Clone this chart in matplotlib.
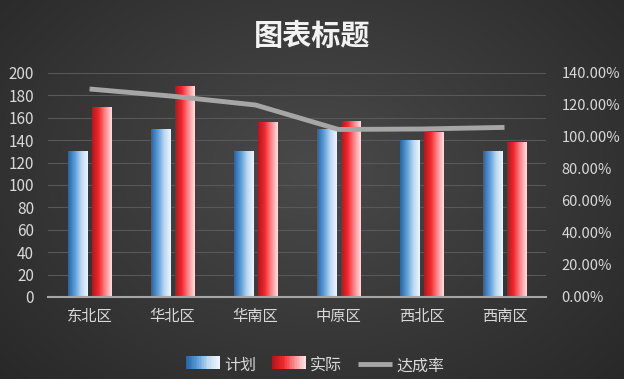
import numpy as np
import matplotlib
matplotlib.use("Agg")
import matplotlib.pyplot as plt
from matplotlib.patches import Rectangle
from matplotlib.legend_handler import HandlerBase
from matplotlib.colors import LinearSegmentedColormap

plt.rcParams['font.family'] = ['Noto Sans CJK SC', 'DejaVu Sans']

regiones = ['东北区', '华北区', '华南区', '中原区', '西北区', '西南区']
plan = [130, 150, 130, 150, 140, 130]
real = [170, 188, 156, 157, 147, 138]
tasa = [1.30, 1.255, 1.20, 1.047, 1.05, 1.06]

textoColor = '#d9d9d9'
cmapAzul = LinearSegmentedColormap.from_list('azul', ['#2565a8', '#5b9bd5', '#bcd7ef', '#eef5fc'])
cmapRojo = LinearSegmentedColormap.from_list('rojo', ['#b8141a', '#f0282d', '#f58a8d', '#fbe0e0'])


class HandlerGradiente(HandlerBase):
    def __init__(self, cmap):
        super().__init__()
        self.cmap = cmap

    def create_artists(self, legend, orig, xd, yd, w, h, fs, trans):
        n = 20
        artistas = []
        for i in range(n):
            r = Rectangle((xd + w * i / n, yd), w / n + 0.3, h,
                          facecolor=self.cmap(i / (n - 1)), edgecolor='none', transform=trans)
            artistas.append(r)
        return artistas


fig = plt.figure(figsize=(6.24, 3.79), dpi=100)

# fondo con degradado radial
fondo = fig.add_axes([0, 0, 1, 1], zorder=-10)
yy, xx = np.mgrid[0:379, 0:624]
d = np.sqrt(((xx - 312) / 420.0) ** 2 + ((yy - 170) / 300.0) ** 2)
d = np.clip(d, 0, 1)
gris = 0.29 - 0.13 * d
fondo.imshow(np.dstack([gris, gris, gris]), aspect='auto', extent=[0, 1, 0, 1])
fondo.axis('off')

ax = fig.add_axes([0.077, 0.2164, 0.798, 0.591])
ax.set_facecolor('none')
x = np.arange(len(regiones))
ancho = 0.23
barrasPlan = ax.bar(x - 0.14, plan, ancho, facecolor='none', edgecolor='none', zorder=2)
barrasReal = ax.bar(x + 0.14, real, ancho, facecolor='none', edgecolor='none', zorder=2)

grad = np.linspace(0, 1, 64).reshape(1, -1)
for barras, cmap in [(barrasPlan, cmapAzul), (barrasReal, cmapRojo)]:
    for b in barras:
        bx, by = b.get_x(), b.get_y()
        bw, bh = b.get_width(), b.get_height()
        im = ax.imshow(grad, cmap=cmap, aspect='auto', extent=[bx, bx + bw, by, by + bh], zorder=2)
        im.set_clip_path(b)

ax.set_xlim(-0.5, len(regiones) - 0.5)
ax.set_ylim(0, 200)
ax.set_yticks(range(0, 201, 20))
ax.set_xticks(x)
ax.set_xticklabels(regiones)
ax.yaxis.grid(True, color='#585858', linewidth=0.8)
ax.set_axisbelow(True)
for s in ['top', 'right', 'left']:
    ax.spines[s].set_visible(False)
ax.spines['bottom'].set_color('#a6a6a6')
ax.spines['bottom'].set_linewidth(1.5)
ax.spines['bottom'].set_zorder(3)
ax.tick_params(axis='both', length=0, colors=textoColor, labelsize=11)
ax.tick_params(axis='x', pad=8)
ax.tick_params(axis='y', pad=10)

ax2 = ax.twinx()
linea, = ax2.plot(x, tasa, color='#a6a6a6', linewidth=3.5, solid_capstyle='butt', zorder=4)
ax2.set_ylim(0, 1.4)
ax2.set_yticks(np.arange(0, 1.41, 0.2))
ax2.set_yticklabels(['%.2f%%' % (v * 100) for v in np.arange(0, 1.41, 0.2)])
ax2.tick_params(axis='y', length=0, colors=textoColor, labelsize=10.5, pad=11)
for s in ax2.spines.values():
    s.set_visible(False)

fig.text(0.5, 0.905, '图表标题', color='#f2f2f2', fontsize=21, fontweight='bold',
         ha='center', va='center')

fig.legend([barrasPlan, barrasReal, linea], ['计划', '实际', '达成率'],
           handler_map={barrasPlan: HandlerGradiente(cmapAzul), barrasReal: HandlerGradiente(cmapRojo)},
           loc='center', bbox_to_anchor=(0.505, 0.035), ncol=3, frameon=False,
           fontsize=11.5, labelcolor=textoColor, handlelength=2.1, handleheight=0.9,
           columnspacing=1.0, handletextpad=0.3)

plt.savefig('out.png', dpi=100)
